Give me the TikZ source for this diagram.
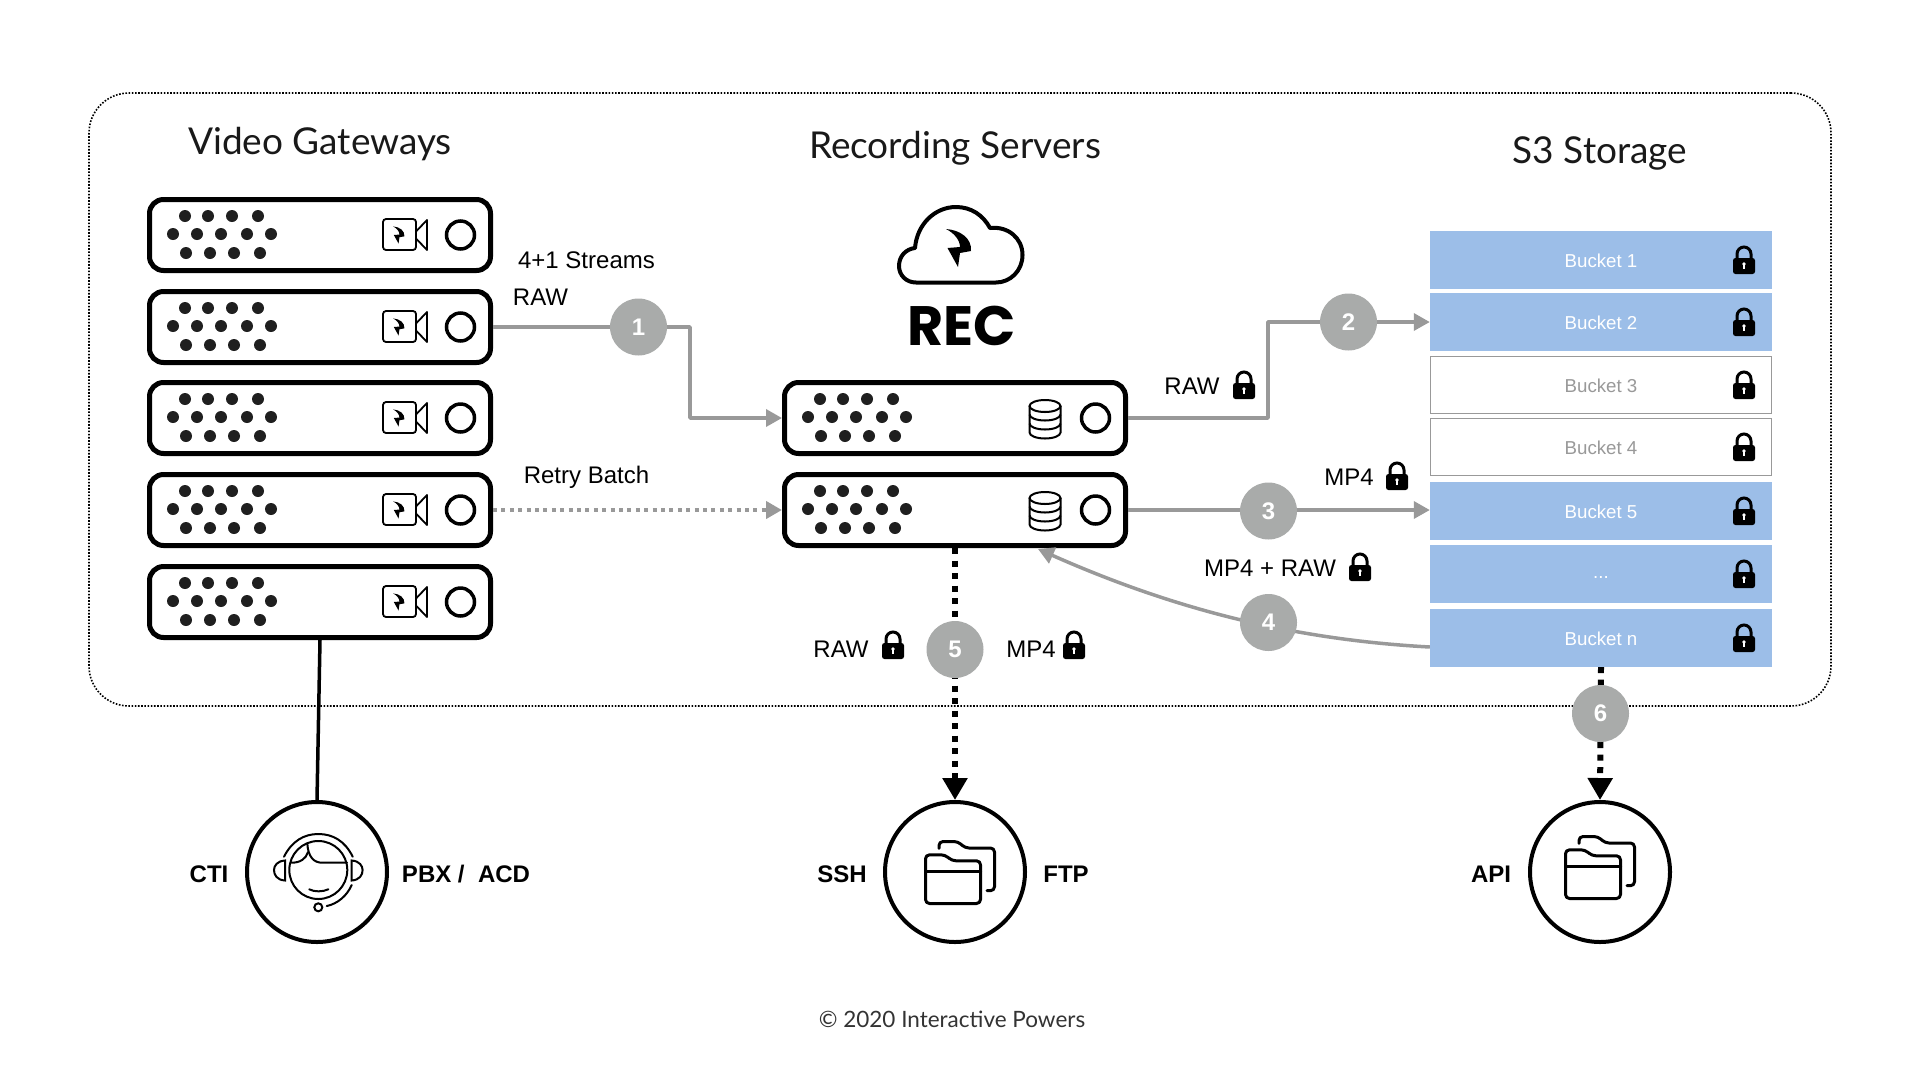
\documentclass[tikz,border=0pt]{standalone}
\usepackage{fontspec}
\setmainfont{Liberation Sans}
\newfontfamily\ttlfont{Lato}
\newfontfamily\recfont{Poppins}
\usepackage{tikz}
\usetikzlibrary{positioning,arrows.meta}
\definecolor{bktblue}{HTML}{9CBEE8}
\definecolor{flowgray}{HTML}{999999}
\definecolor{numgray}{HTML}{A9ABAA}
% small icons, all drawn round a centre point
\providecommand{\boltic}[3]{\fill[shift={(#1,#2)},scale=#3] (-13,-19) .. controls (1,-18) and (13,-10) .. (12,3) -- (1,5) -- (-1,19) -- (-11.5,0) -- (1,-1) .. controls (1,-8) and (-5,-15) .. (-13,-19) -- cycle;}
\providecommand{\lockic}[2]{\begin{scope}[shift={(#1,#2)}]
  \draw[line width=3pt] (-7,0) -- (-7,-6) arc[start angle=180,end angle=360,radius=7] -- (7,0);
  \fill[rounded corners=2.5pt] (-11,-2) rectangle (11,14);
  \fill[white] (0,4) circle (1.8);
  \fill[white] (-.8,4) rectangle (.8,9);
\end{scope}}
\providecommand{\rackic}[1]{\begin{scope}[shift={(#1.center)}]
  \fill[black!88] (-135,-19) circle (6) (-112,-19) circle (6) (-88,-19) circle (6) (-62,-19) circle (6)
    (-147,-1) circle (6) (-123,-1) circle (6) (-99,-1) circle (6) (-73,-1) circle (6) (-49,-1) circle (6)
    (-134,18) circle (6) (-110,18) circle (6) (-86,18) circle (6) (-60,18) circle (6);
  \draw[line width=3.5pt] (140.5,0) circle (14);
\end{scope}}
\providecommand{\camic}[1]{\begin{scope}[shift={(#1.center)}]
  \draw[line width=1.8pt,rounded corners=3pt] (63,-16) rectangle (96,15);
  \draw[line width=1.8pt,line join=round] (96,-3.5) -- (107,-15) -- (107,15) -- (96,3.5);
  \boltic{79}{0}{.45}
\end{scope}}
\providecommand{\dbic}[1]{\begin{scope}[shift={(#1.center)},line width=2pt]
  \draw (90,-12) ellipse (15.5 and 6);
  \draw (74.5,-12) -- (74.5,14.5) arc[start angle=180,end angle=0,x radius=15.5,y radius=6] -- (105.5,-12);
  \draw (74.5,-3.5) arc[start angle=180,end angle=0,x radius=15.5,y radius=6];
  \draw (74.5,5.5) arc[start angle=180,end angle=0,x radius=15.5,y radius=6];
\end{scope}}
\providecommand{\folderic}[2]{\begin{scope}[shift={(#1,#2)},line width=3pt,line cap=round,line join=round]
  \draw[rounded corners=4pt] (-29.5,31.5) -- (-29.5,-17.2) -- (-10,-17.2) -- (-3,-11.2) -- (25.5,-11.2) -- (25.5,31.5) -- cycle;
  \draw (-29.5,-1) -- (25.5,-1);
  \draw[rounded corners=4pt] (-16,-23.7) -- (-16,-30.5) -- (3,-30.5) -- (10,-24) -- (39.5,-24) -- (39.5,18.7) -- (32,18.7);
\end{scope}}

\begin{document}
\begin{tikzpicture}[
  x=1pt, y=-1pt,
  rk/.style={draw=black, fill=white, line width=5pt, rounded corners=14pt, minimum width=341pt, minimum height=71pt, inner sep=0pt},
  ttl/.style={font=\ttlfont\fontsize{37}{40}\selectfont, text=black!90},
  lbl/.style={font=\fontsize{24}{28}\selectfont, inner sep=0pt},
  lblb/.style={font=\bfseries\fontsize{24}{28}\selectfont, inner sep=0pt},
  bkt/.style={fill=bktblue, text=white, minimum width=342pt, minimum height=58pt, inner sep=0pt, text height=15.4pt, text depth=0pt, font=\fontsize{18.7}{22}\selectfont},
  bktw/.style={draw=flowgray, line width=1.2pt, fill=white, text=flowgray, minimum width=341pt, minimum height=57pt, inner sep=0pt, text height=15.4pt, text depth=0pt, font=\fontsize{18.7}{22}\selectfont},
  num/.style={circle, fill=numgray, text=white, minimum size=57pt, inner sep=0pt, font=\bfseries\fontsize{24}{28}\selectfont},
  ext/.style={circle, draw=black, fill=white, line width=4pt, minimum size=140pt, inner sep=0pt},
  flow/.style={draw=flowgray, line width=3.5pt, line join=round, -{Triangle[length=16pt,width=17pt]}},
  flowd/.style={draw=flowgray, line width=4pt, dash pattern=on 4pt off 4.4pt, -{Triangle[length=16pt,width=17pt]}},
  outflow/.style={draw=black, line width=6pt, dash pattern=on 6pt off 6.5pt, -{Triangle[length=22pt,width=24pt]}},
]
\useasboundingbox (0,0) rectangle (1920,1080);

% ---------------- outer frame + titles ----------------
\node[draw=black, line width=1.6pt, dash pattern=on 1.6pt off 1.6pt, rounded corners=40pt, minimum width=1742pt, minimum height=613pt, inner sep=0pt] (frame) at (960,399.5) {};
\node[ttl] (tGw)  at (320,144) {Video Gateways};
\node[ttl] (tRec) at (955,148) {Recording Servers};
\node[ttl] (tS3)  at (1600,153) {S3 Storage};

% ---------------- racks ----------------
\node[rk] (gw1) at (320,235) {};
\node[rk] (gw2) at (320,327) {};
\node[rk] (gw3) at (320,418) {};
\node[rk] (gw4) at (320,510) {};
\node[rk] (gw5) at (320,602) {};
\node[rk] (sv1) at (955,418) {};
\node[rk] (sv2) at (955,510) {};
\rackic{gw1} \camic{gw1}
\rackic{gw2} \camic{gw2}
\rackic{gw3} \camic{gw3}
\rackic{gw4} \camic{gw4}
\rackic{gw5} \camic{gw5}
\rackic{sv1} \dbic{sv1}
\rackic{sv2} \dbic{sv2}

% ---------------- cloud + REC ----------------
\draw[line width=4pt, line join=round] (916,282.5) .. controls (906,282.5) and (899,275) .. (899,266) .. controls (899,256) and (906,249) .. (915,248) .. controls (917,224) and (935,207) .. (956,207) .. controls (971,207) and (983,215) .. (990,228) .. controls (1008,226) and (1022.5,238) .. (1022.5,255) .. controls (1022.5,271) and (1010,282.5) .. (996,282.5) -- cycle;
\boltic{959}{248}{1}
\node[font=\recfont\bfseries\fontsize{55.5}{60}\selectfont, inner sep=0pt] (rec) at (962,326) {REC};

% ---------------- buckets ----------------
\node[bkt]  (b1) at (1601,260) {Bucket 1};
\node[bkt]  (b2) at (1601,322) {Bucket 2};
\node[bktw] (b3) at (1601,385) {Bucket 3};
\node[bktw] (b4) at (1601,447) {Bucket 4};
\node[bkt]  (b5) at (1601,511) {Bucket 5};
\node[bkt, text height=8pt] (b6) at (1601,574) {...};
\node[bkt]  (bn) at (1601,638) {Bucket n};
\lockic{1744}{260}
\lockic{1744}{322}
\lockic{1744}{385}
\lockic{1744}{447}
\lockic{1744}{511}
\lockic{1744}{574}
\lockic{1744}{638}

% ---------------- external systems ----------------
\node[ext] (cti) at (317,872) {};
\node[ext] (ssh) at (955,872) {};
\node[ext] (api) at (1600,872) {};
\folderic{955}{872}
\folderic{1595}{867}
\begin{scope}[shift={(cti.center)}, line width=2pt, line cap=round]
  \draw (1.3,-2) circle (29);
  \draw (-33,-15.3) .. controls (-25,-31) and (-13,-38) .. (1.3,-38) .. controls (16,-38) and (28,-31) .. (35.7,-15.3);
  \draw (-32,-11.5) .. controls (-40,-11) and (-43,-6) .. (-43,-2) .. controls (-43,3) and (-40,8) .. (-32,8.5) -- cycle;
  \draw (34.6,-11.5) .. controls (42.6,-11) and (45.6,-6) .. (45.6,-2) .. controls (45.6,3) and (42.6,8) .. (34.6,8.5) -- cycle;
  \draw (-9.7,-28.7) .. controls (-9,-15) and (-3,-9.3) .. (5,-9.3) -- (30,-9.3);
  \draw (-9,-20) .. controls (-11,-13) and (-17,-9.3) .. (-25.5,-9.3);
  \draw (-7.7,17.3) .. controls (-3,20) and (6,20) .. (11.3,17.3);
  \draw (34.7,13) .. controls (30,24) and (20,32) .. (9.7,34);
  \draw (1.3,35.3) circle (4);
\end{scope}

% ---------------- connectors (number circles go on top) ----------------
\coordinate (k1) at (690,327);
\coordinate (k2) at (1268,322);
\draw[flow] (gw2.east) -- (k1) |- (sv1.west);
\draw[flowd] (gw4.east) -- (sv2.west);
\draw[flow] (sv1.east) -| (k2) -- (b2.west);
\draw[flow] (sv2.east) -- (sv2.east -| b5.west);
\draw[flow] ([yshift=-9pt]bn.west) .. controls (1300,640) and (1180,612) .. ([xshift=83pt,yshift=-1pt]sv2.south);
\draw[outflow] (sv2.south) -- (ssh.north);
\draw[outflow] (bn.south) -- (api.north);
\draw[line width=3.5pt] (gw5.south) -- (cti.north);

\node[num] (n1) at (638.5,327) {1};
\node[num] (n2) at (1348.5,322) {2};
\node[num] (n3) at (1268.5,511) {3};
\node[num] (n4) at (1268.5,622.5) {4};
\node[num] (n5) at (955,649.5) {5};
\node[num] (n6) at (1600.5,713.5) {6};

% ---------------- labels + locks ----------------
\node[lbl] (l1) at (586.5,260) {4+1 Streams};
\node[lbl] (l2) at (540.5,297) {RAW};
\node[lbl] (l3) at (586.5,477) {Retry Batch};
\node[lbl] (l4) at (1192,386) {RAW};
\node[lbl] (l5) at (1349,477) {MP4};
\node[lbl] (l6) at (1270,568) {MP4 + RAW};
\node[lbl] (l7) at (841,649) {RAW};
\node[lbl] (l8) at (1031,649) {MP4};
\lockic{1244}{385}
\lockic{1397}{476}
\lockic{1360}{567}
\lockic{893}{645}
\lockic{1074}{645}

\node[lblb] (l9)  at (209,874) {CTI};
\node[lblb] (l10) at (466,874) {PBX /\ \ ACD};
\node[lblb] (l11) at (842,874) {SSH};
\node[lblb] (l12) at (1066,874) {FTP};
\node[lblb] (l13) at (1491,874) {API};

\node[font=\ttlfont\fontsize{22.5}{26}\selectfont, text=black!80] (copy) at (952,1019) {© 2020 Interactive Powers};
\end{tikzpicture}
\end{document}
